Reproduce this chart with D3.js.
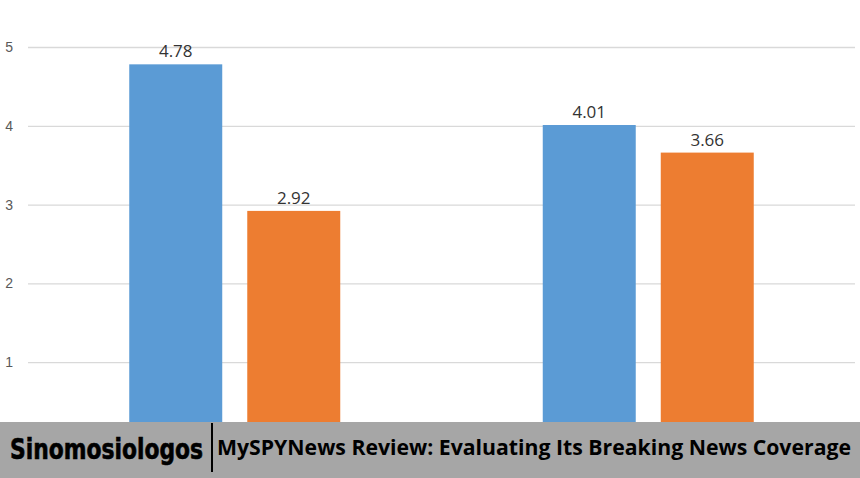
<!DOCTYPE html>
<html>
<head>
<meta charset="utf-8">
<script src="https://cdn.jsdelivr.net/npm/d3@7"></script>
<style>
  html, body { margin: 0; padding: 0; background: #fff; }
  svg { display: block; }
</style>
</head>
<body>
<div id="chart"></div>
<script>
// Chart data
const categories = ["Group A", "Group B"]
const seriesNames = ["Series 1", "Series 2"]
const seriesValues = [
  [4.78, 4.01],   // blue
  [2.92, 3.66]    // orange
]
const yTicks = [1, 2, 3, 4, 5]
const brandText = "Sinomosiologos"
const titleText = "MySPYNews Review: Evaluating Its Breaking News Coverage"

// Layout
const W = 860, H = 478
const plot = { left: 28, right: 855, top: 47, bottom: 441 }
const colors = ["#5b9bd5", "#ed7d31"]

const svg = d3.select("#chart").append("svg")
  .attr("width", W).attr("height", H)

svg.append("rect").attr("width", W).attr("height", H).attr("fill", "#fff")

// Scales
const x0 = d3.scaleBand()
  .domain(categories)
  .range([plot.left, plot.right])
  .padding(0)

const x1 = d3.scaleBand()
  .domain(seriesNames)
  .range([0, x0.bandwidth()])
  .paddingInner(0.212)
  .paddingOuter(0.858)

const y = d3.scaleLinear()
  .domain([0, 5])
  .range([plot.bottom, plot.top])

// Gridlines + tick labels
const yAxis = svg.append("g")
  .attr("transform", `translate(${plot.left},0)`)
  .call(d3.axisLeft(y)
    .tickValues(yTicks)
    .tickFormat(d3.format("d"))
    .tickSizeInner(-(plot.right - plot.left))
    .tickSizeOuter(0)
    .tickPadding(15))

yAxis.select(".domain").remove()
yAxis.selectAll(".tick line").attr("stroke", "#d9d9d9").attr("stroke-width", 1.3)
yAxis.selectAll(".tick text")
  .attr("fill", "#595959")
  .style("font-family", "'Liberation Sans', Arial, sans-serif")
  .style("font-size", "14px")

// Bars
const rows = []
categories.forEach((c, i) => {
  seriesNames.forEach((s, j) => {
    rows.push({ cat: c, series: s, idx: j, value: seriesValues[j][i] })
  })
})

const groups = svg.append("g")

groups.selectAll("rect")
  .data(rows)
  .join("rect")
  .attr("x", d => x0(d.cat) + x1(d.series))
  .attr("y", d => y(d.value))
  .attr("width", x1.bandwidth())
  .attr("height", d => y(0) - y(d.value))
  .attr("fill", d => colors[d.idx])

// Value labels
groups.selectAll("text")
  .data(rows)
  .join("text")
  .attr("x", d => x0(d.cat) + x1(d.series) + x1.bandwidth() / 2)
  .attr("y", d => y(d.value) - 7)
  .attr("text-anchor", "middle")
  .attr("fill", "#333")
  .style("font-family", "'Open Sans', 'Liberation Sans', sans-serif")
  .style("font-size", "17px")
  .text(d => d.value.toFixed(2))

// Bottom banner
const banner = svg.append("g")
banner.append("rect")
  .attr("x", 0).attr("y", 422)
  .attr("width", W).attr("height", H - 422)
  .attr("fill", "#a6a6a6")

banner.append("text")
  .attr("x", 10).attr("y", 459)
  .attr("textLength", 193)
  .attr("lengthAdjust", "spacingAndGlyphs")
  .attr("fill", "#000")
  .style("font-family", "'Liberation Sans Narrow', 'DejaVu Sans Condensed', 'Roboto', sans-serif")
  .style("font-weight", "bold")
  .style("font-size", "28px")
  .style("stroke", "#000")
  .style("stroke-width", "0.6px")
  .text(brandText)

banner.append("line")
  .attr("x1", 212).attr("x2", 212)
  .attr("y1", 423).attr("y2", 472)
  .attr("stroke", "#000").attr("stroke-width", 2)

banner.append("text")
  .attr("x", 217).attr("y", 455)
  .attr("textLength", 634)
  .attr("lengthAdjust", "spacingAndGlyphs")
  .attr("fill", "#000")
  .style("font-family", "'Open Sans', 'Noto Sans', sans-serif")
  .style("font-weight", "bold")
  .style("font-size", "21px")
  .text(titleText)
</script>
</body>
</html>
